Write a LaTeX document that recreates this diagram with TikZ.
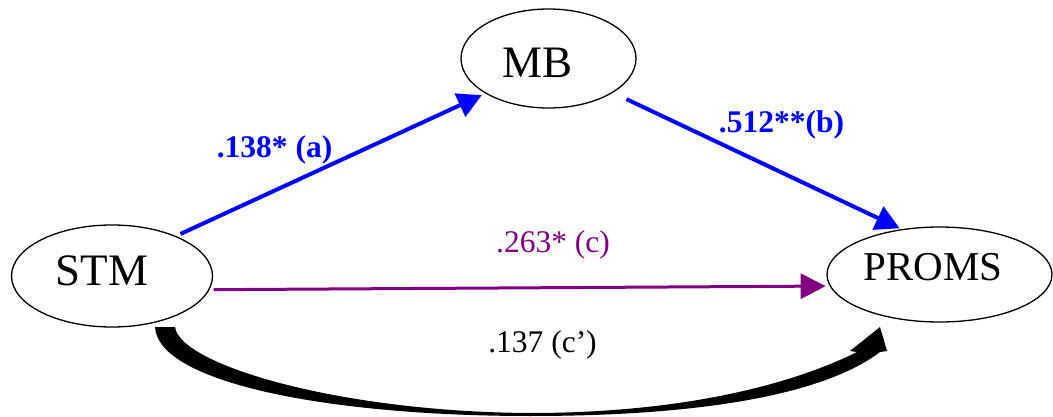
\documentclass[tikz,border=0pt]{standalone}
\usepackage{fontspec}
\setmainfont{Liberation Serif}
\usetikzlibrary{arrows.meta,shapes.geometric}
\definecolor{myblue}{RGB}{0,0,255}
\definecolor{mypurple}{RGB}{128,0,128}
\begin{document}
\begin{tikzpicture}[x=1pt,y=-1pt,
  ell/.style={draw=black, line width=1.3pt, ellipse, inner sep=0pt},
  bigtext/.style={font=\fontsize{45}{50}\selectfont},
  bluearrow/.style={draw=myblue, line width=4pt, -{Triangle[length=24pt,width=25pt]}},
  purplearrow/.style={draw=mypurple, line width=3pt, -{Triangle[length=25pt,width=25pt]}},
  lab/.style={anchor=base, font=\fontsize{31.5}{36}\selectfont},
  blab/.style={lab, text=myblue, font=\fontsize{31.5}{36}\selectfont\bfseries}]
\useasboundingbox (0,0) rectangle (1053,417);
% nodes
\node[ell, minimum width=201pt, minimum height=102pt, bigtext,
      text height=29.5pt, text depth=10pt] (STM) at (112,276) {STM\kern20pt};
\node[ell, minimum width=175pt, minimum height=99pt, bigtext,
      text height=37.5pt, text depth=0pt] (MB) at (548.5,58.5) {MB\kern21pt};
\node[ell, minimum width=225pt, minimum height=95pt, font=\fontsize{41}{46}\selectfont,
      text height=26.9pt, text depth=14pt] (PROMS) at (939.5,274.5) {PROMS\kern13pt};
% connectors
\draw[bluearrow, shorten <=5pt, shorten >=4pt] (STM.32.6) -- (MB.209.1);
\draw[bluearrow, shorten <=15pt, shorten >=2pt] (MB.332) -- (PROMS.130.9);
\draw[purplearrow, shorten <=4pt, shorten >=4pt] (STM.352.4) -- (PROMS.186.6);
% tapered curved arrow c'
\fill[black] (155,327) .. controls (158,383) and (330,416) .. (530,416)
  .. controls (720,416) and (830,390) .. (880,352)
  -- (887,351) -- (880,327) -- (850,351) -- (857,352)
  .. controls (805,378) and (700,413) .. (530,413)
  .. controls (340,412) and (180,365) .. (175,327) -- cycle;
% labels
\node[blab] (la) at (274.5,158) {.138* (a)};
\node[blab] (lb) at (781.5,133) {.512**(b)};
\node[lab, text=mypurple] (lc) at (553,252) {.263* (c)};
\node[lab, text=black] (lcp) at (542.5,352) {.137 (c’)};
\end{tikzpicture}
\end{document}
